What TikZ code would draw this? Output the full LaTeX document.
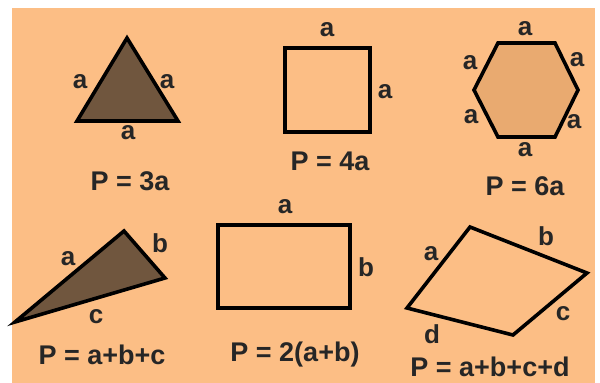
\documentclass[tikz,border=0pt]{standalone}
\usepackage{fontspec}
\setmainfont{Liberation Sans}
\begin{document}
\begin{tikzpicture}[x=1pt,y=-1pt,
  lbl/.style={font=\fontsize{26}{26}\selectfont\bfseries, text=black!85, inner sep=0pt, anchor=center},
  frm/.style={font=\fontsize{27}{27}\selectfont\bfseries, text=black!85, inner sep=0pt, anchor=center},
  shp/.style={draw=black, line width=3.6pt, line join=miter},
  ]
\definecolor{bgor}{RGB}{252,190,133}
\definecolor{brn}{RGB}{112,86,62}
\definecolor{hexf}{RGB}{233,170,112}
\useasboundingbox (0,0) rectangle (600,383);
\fill[white] (0,0) rectangle (600,383);
\fill[bgor] (12,8) rectangle (595,383);
% equilateral triangle
\coordinate (t1) at (127,38);
\coordinate (t2) at (77,121);
\coordinate (t3) at (178,121);
\filldraw[shp, fill=brn] (t1) -- (t2) -- (t3) -- cycle;
\node[lbl] (t1a) at (80,82) {a};
\node[lbl] (t1b) at (167,82) {a};
\node[lbl] (t1c) at (128,133) {a};
\node[frm] (t1p) at (130,181) {P = 3a};
% square
\coordinate (s1) at (285,48);
\coordinate (s2) at (370,132);
\draw[shp] (s1) rectangle (s2);
\node[lbl] (sa) at (327,30) {a};
\node[lbl] (sb) at (385,92) {a};
\node[frm] (sp) at (330,161) {P = 4a};
% hexagon
\coordinate (h1) at (498,43);
\coordinate (h2) at (555,43);
\coordinate (h3) at (578,90);
\coordinate (h4) at (555,137);
\coordinate (h5) at (498,137);
\coordinate (h6) at (474,90);
\filldraw[shp, fill=hexf] (h1) -- (h2) -- (h3) -- (h4) -- (h5) -- (h6) -- cycle;
\node[lbl] (ha) at (525,29) {a};
\node[lbl] (hb) at (577,60) {a};
\node[lbl] (hc) at (574,122) {a};
\node[lbl] (hd) at (525,150) {a};
\node[lbl] (he) at (471,117) {a};
\node[lbl] (hf) at (470,63) {a};
\node[frm] (hp) at (525,186) {P = 6a};
% scalene triangle
\coordinate (q1) at (15,322);
\coordinate (q2) at (124,231);
\coordinate (q3) at (165,278);
\filldraw[shp, fill=brn] (q1) -- (q2) -- (q3) -- cycle;
\node[lbl] (qa) at (68,259) {a};
\node[lbl] (qb) at (160,243) {b};
\node[lbl] (qc) at (96,317) {c};
\node[frm] (qp) at (102,355) {P = a+b+c};
% rectangle
\coordinate (r1) at (218,225);
\coordinate (r2) at (350,308);
\draw[shp] (r1) rectangle (r2);
\node[lbl] (ra) at (285,207) {a};
\node[lbl] (rb) at (366,267) {b};
\node[frm] (rp) at (295,355) {P = 2(a+b)};
% quadrilateral
\coordinate (u1) at (470,227);
\coordinate (u2) at (587,273);
\coordinate (u3) at (513,335);
\coordinate (u4) at (407,308);
\draw[shp] (u1) -- (u2) -- (u3) -- (u4) -- cycle;
\node[lbl] (ua) at (431,254) {a};
\node[lbl] (ub) at (546,236) {b};
\node[lbl] (uc) at (563,314) {c};
\node[lbl] (ud) at (432,334) {d};
\node[frm] (up) at (490,367) {P = a+b+c+d};
\end{tikzpicture}
\end{document}
